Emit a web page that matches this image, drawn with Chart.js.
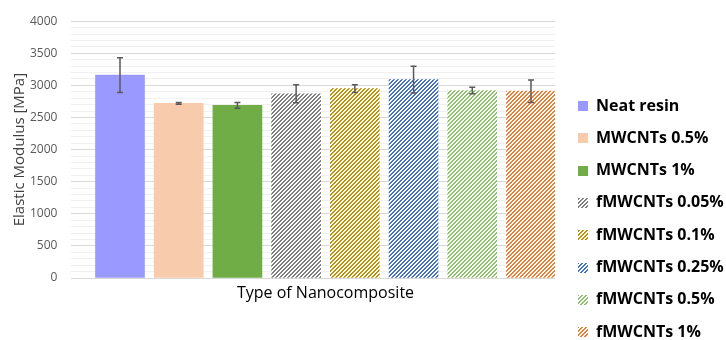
<!DOCTYPE html>
<html>
<head>
<meta charset="utf-8">
<script src="https://cdn.jsdelivr.net/npm/chart.js@4.4.1/dist/chart.umd.min.js"></script>
<style>
  html, body { margin: 0; padding: 0; background: #fff; }
  #wrap { width: 726px; height: 340px; }
</style>
</head>
<body>
<div id="wrap"><canvas id="modulusChart"></canvas></div>
<script>
// data
const samples = ["Neat resin", "MWCNTs 0.5%", "MWCNTs 1%", "fMWCNTs 0.05%",
                 "fMWCNTs 0.1%", "fMWCNTs 0.25%", "fMWCNTs 0.5%", "fMWCNTs 1%"];
const modulus = [3160, 2720, 2690, 2870, 2950, 3090, 2920, 2910];
const modulusErr = [270, 15, 45, 140, 62, 210, 50, 175];
const yTicks = [0, 500, 1000, 1500, 2000, 2500, 3000, 3500, 4000];
const xTitle = "Type of Nanocomposite";

const barColors = ["#9999ff", "#f8cbad", "#70ad47", "#7f7f7f",
                   "#bf9000", "#4472c4", "#8cc06a", "#ed7d31"];
const hatched = [false, false, false, true, true, true, true, true];

/* diagonal stripe pattern, like Excel's "wide upward diagonal" */
function stripes(color) {
    const c = document.createElement("canvas");
    c.width = 4; c.height = 4;
    const ctx = c.getContext("2d");
    ctx.fillStyle = "#ffffff";
    ctx.fillRect(0, 0, 4, 4);
    ctx.fillStyle = color;
    for (let y = 0; y < 4; y++) {
        for (let x = 0; x < 4; x++) {
            if ((x + y) % 4 < 2) ctx.fillRect(x, y, 1, 1);
        }
    }
    return ctx.createPattern(c, "repeat");
}

/* error bars */
const errorBars = {
    id: "errorBars",
    afterDatasetsDraw(chart) {
        const ctx = chart.ctx;
        const y = chart.scales.y;
        ctx.save();
        ctx.strokeStyle = "#595959";
        ctx.lineWidth = 1.5;
        chart.data.datasets.forEach((ds, i) => {
            const bar = chart.getDatasetMeta(i).data[0];
            if (!bar) return;
            const v = modulus[i], e = modulusErr[i];
            const top = y.getPixelForValue(v + e);
            const bot = y.getPixelForValue(v - e);
            ctx.beginPath();
            ctx.moveTo(bar.x, top); ctx.lineTo(bar.x, bot);
            ctx.moveTo(bar.x - 3, top); ctx.lineTo(bar.x + 3, top);
            ctx.moveTo(bar.x - 3, bot); ctx.lineTo(bar.x + 3, bot);
            ctx.stroke();
        });
        ctx.restore();
    }
};

/* legend on the right + x title under the bar group (Excel centres it on the bars) */
const sideLegend = {
    id: "sideLegend",
    afterDraw(chart) {
        const ctx = chart.ctx;
        ctx.save();
        ctx.font = "bold 16px 'Open Sans'";
        ctx.textBaseline = "middle";
        chart.data.datasets.forEach((ds, i) => {
            const cy = 106 + i * 32.3;
            ctx.fillStyle = ds.backgroundColor;
            ctx.fillRect(578, Math.round(cy - 5), 10, 10);
            ctx.fillStyle = "#000";
            ctx.fillText(ds.label, 596, cy);
        });

        const first = chart.getDatasetMeta(0).data[0];
        const last = chart.getDatasetMeta(chart.data.datasets.length - 1).data[0];
        ctx.font = "16px 'Open Sans'";
        ctx.textAlign = "center";
        ctx.fillText(xTitle, (first.x + last.x) / 2, chart.chartArea.bottom + 15);
        ctx.restore();
    }
};

const datasets = samples.map((name, i) => ({
    label: name,
    data: [{ x: i, y: modulus[i] }],
    backgroundColor: hatched[i] ? stripes(barColors[i]) : barColors[i],
    borderWidth: 0,
    barThickness: 49,
    grouped: false
}));

new Chart(document.getElementById("modulusChart"), {
    type: "bar",
    data: { datasets },
    options: {
        responsive: true,
        maintainAspectRatio: false,
        animation: false,
        layout: { padding: { top: 14, bottom: 54, left: 11, right: 171 } },
        plugins: {
            tooltip: { enabled: false },
            legend: { display: false }
        },
        scales: {
            x: {
                type: "linear",
                offset: false,
                min: -0.827,
                max: 7.409,
                grid: { display: false, offset: false },
                border: { display: false },
                ticks: { display: false }
            },
            y: {
                min: 0,
                max: 4000,
                border: { display: false },
                grid: {
                    color: (c) => (c.tick && yTicks.includes(c.tick.value)) ? "#d9d9d9" : "#f0f0f0",
                    lineWidth: 1,
                    drawTicks: false
                },
                ticks: {
                    stepSize: 100,
                    autoSkip: false,
                    padding: 14,
                    color: "#595959",
                    font: { family: "Open Sans", size: 12 },
                    callback: (v) => yTicks.includes(v) ? v : ""
                },
                title: {
                    display: true,
                    text: "Elastic Modulus [MPa]",
                    color: "#404040",
                    font: { family: "Open Sans", size: 15 },
                    padding: { top: 0, bottom: -13 }
                }
            }
        }
    },
    plugins: [errorBars, sideLegend]
});
</script>
</body>
</html>
